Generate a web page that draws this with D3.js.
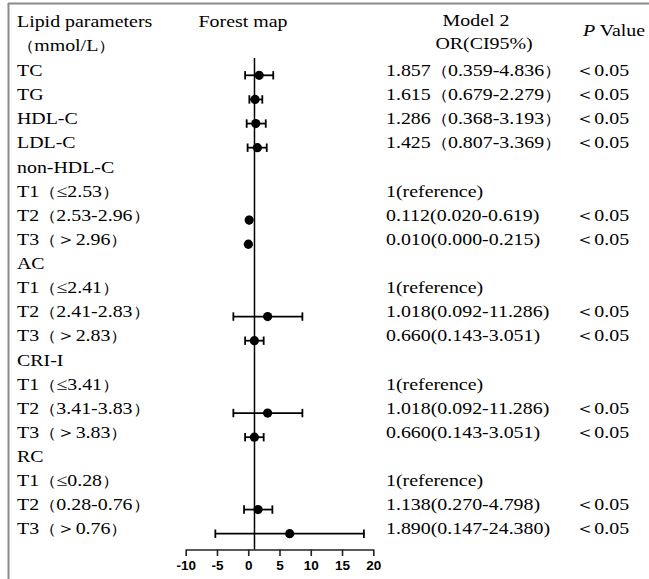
<html>
  <head>
    <meta charset="UTF-8" />
    <script src="https://d3js.org/d3.v7.min.js"></script>
    <style>
      body { margin: 0; background: #fff; }
      text { font-family: "Liberation Serif", "Times New Roman", serif; fill: #000; }
    </style>
  </head>
  <body>
    <svg id="svg"></svg>
    <script>
      // row labels (left column)
      var labels = ["TC", "TG", "HDL-C", "LDL-C", "non-HDL-C",
        "T1（≤2.53）", "T2（2.53-2.96）", "T3（＞2.96）", "AC",
        "T1（≤2.41）", "T2（2.41-2.83）", "T3（＞2.83）", "CRI-I",
        "T1（≤3.41）", "T2（3.41-3.83）", "T3（＞3.83）", "RC",
        "T1（≤0.28）", "T2（0.28-0.76）", "T3（＞0.76）"];

      // OR (CI95%) text column
      var orText = ["1.857（0.359-4.836）", "1.615（0.679-2.279）",
        "1.286（0.368-3.193）", "1.425（0.807-3.369）", "",
        "1(reference)", "0.112(0.020-0.619)", "0.010(0.000-0.215)", "",
        "1(reference)", "1.018(0.092-11.286)", "0.660(0.143-3.051)", "",
        "1(reference)", "1.018(0.092-11.286)", "0.660(0.143-3.051)", "",
        "1(reference)", "1.138(0.270-4.798)", "1.890(0.147-24.380)"];

      var pText = ["＜0.05", "＜0.05", "＜0.05", "＜0.05", "",
        "", "＜0.05", "＜0.05", "",
        "", "＜0.05", "＜0.05", "",
        "", "＜0.05", "＜0.05", "",
        "", "＜0.05", "＜0.05"];

      // plotted estimate / lower / upper as drawn in the forest map (null = no mark)
      var est = [1.75, 1.09, 1.2, 1.46, null, null, 0.15, 0.02, null, null, 3.1, 0.98, null, null, 3.1, 0.98, null, null, 1.57, 6.63];
      var lo = [-0.5, 0.18, -0.25, -0.1, null, null, 0.1, 0.0, null, null, -2.38, -0.5, null, null, -2.38, -0.5, null, null, -0.67, -5.26];
      var hi = [4.0, 2.25, 2.8, 2.96, null, null, 0.2, 0.05, null, null, 8.66, 2.47, null, null, 8.66, 2.47, null, null, 3.86, 18.5];

      var xTicks = [-10, -5, 0, 5, 10, 15, 20];
      var refValue = 1;

      var width = 649, height = 579;
      var svg = d3.select("#svg").attr("width", width).attr("height", height);

      var x = d3.scaleLinear().domain([-10, 20]).range([185.7, 373.3]);
      var y = d3.scalePoint().domain(d3.range(labels.length)).range([75.3, 533.7]);

      // frame (top + left edges visible)
      svg.append("line").attr("x1", 8).attr("x2", width).attr("y1", 3.5).attr("y2", 3.5)
        .attr("stroke", "#8a8a8a").attr("stroke-width", 2);
      svg.append("line").attr("x1", 8.5).attr("x2", 8.5).attr("y1", 3).attr("y2", height)
        .attr("stroke", "#8a8a8a").attr("stroke-width", 2);

      var fs = 17, stretch = 1.17;

      // text is drawn slightly wide like the scanned table; full-width parens a bit smaller
      function addText(parent, str, px, py, anchor) {
        var t = parent.append("text")
          .attr("transform", "translate(" + px + "," + py + ") scale(" + stretch + ",1)")
          .attr("text-anchor", anchor || "start")
          .style("font-size", fs + "px");
        var runs = str.match(/[（）]+|[＜＞]+|[^（）＜＞]+/g) || [];
        runs.forEach(function (r) {
          var s = t.append("tspan").text(r);
          if (/[（）]/.test(r)) s.style("font-size", "14.5px");
          else if (/[＜＞]/.test(r)) s.style("font-size", "16.5px");
        });
        return t;
      }

      // headers
      addText(svg, "Lipid parameters", 17, y(0) - 48.5);
      addText(svg, "（mmol/L）", 17, y(0) - 24.5);
      addText(svg, "Forest map", 243, y(0) - 48.5, "middle");
      addText(svg, "Model 2", 476, y(0) - 49, "middle");
      addText(svg, "OR(CI95%)", 484, y(0) - 26, "middle");
      var pv = svg.append("text")
        .attr("transform", "translate(583," + (y(0) - 39) + ") scale(" + stretch + ",1)")
        .style("font-size", fs + "px");
      pv.append("tspan").style("font-style", "italic").text("P");
      pv.append("tspan").text(" Value");

      // text columns
      var gl = svg.append("g"), go = svg.append("g"), gp = svg.append("g");
      labels.forEach((d, i) => addText(gl, d, 17, y(i) + 0.7));
      orText.forEach((d, i) => { if (d) addText(go, d, 386, y(i) + 0.7); });
      pText.forEach((d, i) => { if (d) addText(gp, d, 575, y(i) + 0.7); });

      // reference line
      svg.append("line").attr("x1", x(refValue)).attr("x2", x(refValue))
        .attr("y1", 58).attr("y2", 549.5).attr("stroke", "#000").attr("stroke-width", 1.5);

      // CI whiskers and points
      var rows = d3.range(labels.length).filter(i => est[i] !== null);
      var g = svg.append("g");
      rows.forEach(function (i) {
        var yy = y(i);
        g.append("line").attr("x1", x(lo[i])).attr("x2", x(hi[i])).attr("y1", yy).attr("y2", yy)
          .attr("stroke", "#000").attr("stroke-width", 1.8);
        [lo[i], hi[i]].forEach(function (v) {
          g.append("line").attr("x1", x(v)).attr("x2", x(v)).attr("y1", yy - 4.2).attr("y2", yy + 4.2)
            .attr("stroke", "#000").attr("stroke-width", 1.8);
        });
        g.append("circle").attr("cx", x(est[i])).attr("cy", yy).attr("r", 4.6).attr("fill", "#000");
      });

      // x axis
      var axis = svg.append("g").attr("transform", "translate(0,549.5)")
        .call(d3.axisBottom(x).tickValues(xTicks).tickFormat(d => String(d))
          .tickSize(6.5).tickSizeOuter(0).tickPadding(4));
      axis.select(".domain").attr("stroke", "#222").attr("stroke-width", 1.6);
      axis.selectAll(".tick line").attr("stroke", "#222").attr("stroke-width", 1.6);
      axis.selectAll(".tick text").style("font-family", "'Liberation Sans', Arial, sans-serif")
        .style("font-weight", "bold").style("font-size", "13.5px").attr("fill", "#000");
    </script>
  </body>
</html>
